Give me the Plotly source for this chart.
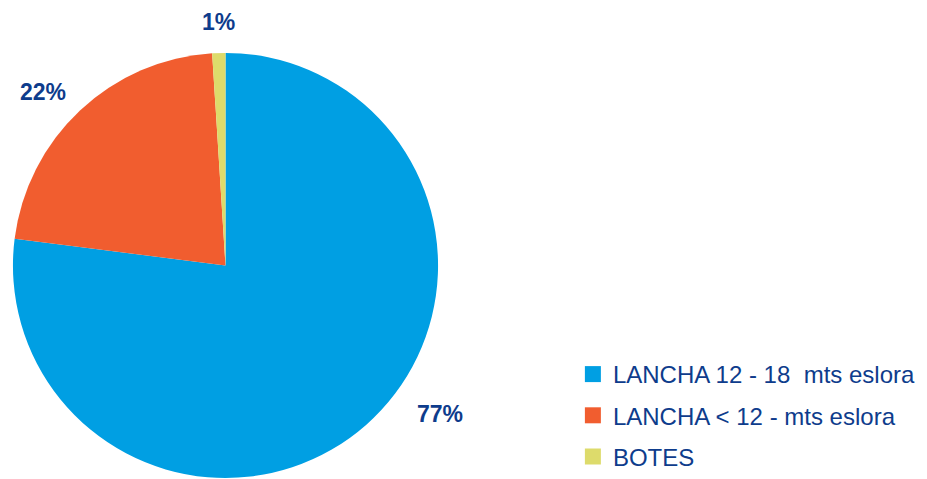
import plotly.graph_objects as go

# Fleet composition by vessel type
categories = ["LANCHA 12 - 18\u00a0 mts eslora", "LANCHA < 12 - mts eslora", "BOTES"]
shares = [77, 22, 1]
colors = ["#009FE3", "#F15D2F", "#DDDB6B"]

W, H = 927, 479
text_color = "#0E3C8C"

fig = go.Figure()

fig.add_trace(go.Pie(
    labels=categories,
    values=shares,
    marker=dict(colors=colors, line=dict(width=0)),
    sort=False,
    direction="clockwise",
    rotation=0,
    textinfo="none",
    hoverinfo="label+percent",
    showlegend=False,
    domain=dict(x=[12 / W, 439 / W], y=[0, 426 / H]),
))

# Legend entries as square swatches
for name, col in zip(categories, colors):
    fig.add_trace(go.Scatter(
        x=[None], y=[None], mode="markers", name=name,
        marker=dict(symbol="square", size=18, color=col),
        legendgroup=name, showlegend=True,
    ))

# Percentage labels placed around the pie
label_pos = [(440, 415), (43, 92), (218, 22)]
annotations = []
for v, (px, py) in zip(shares, label_pos):
    annotations.append(dict(
        x=px / W, y=1 - py / H, xref="paper", yref="paper",
        text=f"<b>{v}%</b>", showarrow=False,
        font=dict(family="Liberation Sans, Arial", size=23, color=text_color),
        xanchor="center", yanchor="middle",
    ))

fig.update_layout(
    width=W, height=H,
    margin=dict(l=0, r=0, t=0, b=0),
    paper_bgcolor="white", plot_bgcolor="white",
    xaxis=dict(visible=False), yaxis=dict(visible=False),
    annotations=annotations,
    legend=dict(
        x=0.618, y=1 - 353 / H, xanchor="left", yanchor="top",
        font=dict(family="Liberation Sans, Arial", size=24, color=text_color),
        tracegroupgap=7, bgcolor="rgba(0,0,0,0)",
    ),
)

fig.write_html("out.html")
